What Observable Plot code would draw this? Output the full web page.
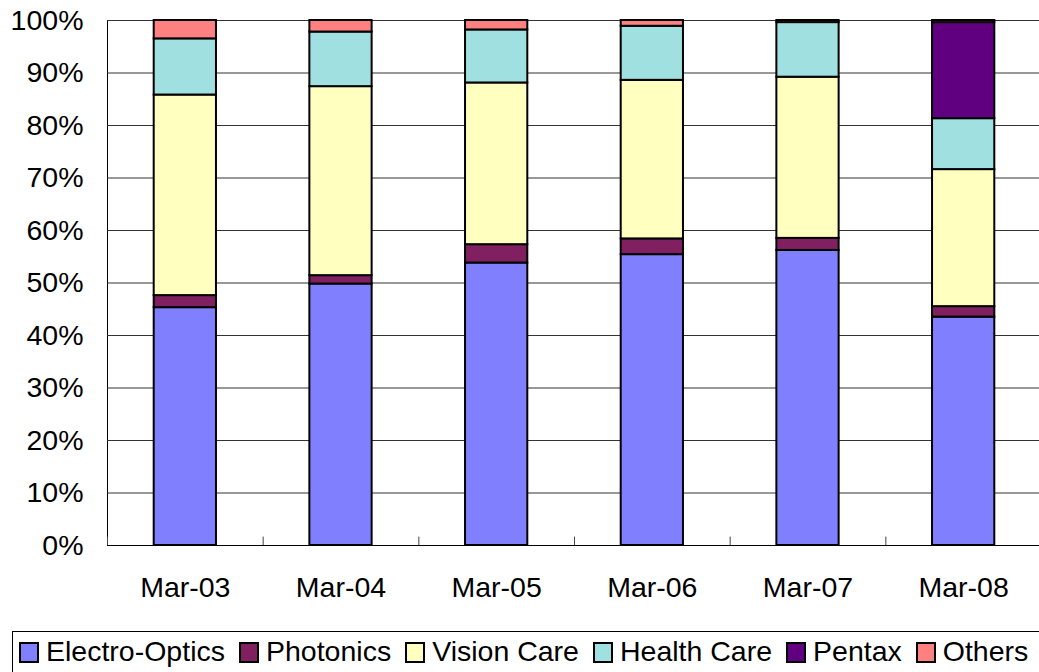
<!DOCTYPE html>
<html>
<head>
<meta charset="utf-8">
<script src="https://cdn.jsdelivr.net/npm/d3@7"></script>
<script src="https://cdn.jsdelivr.net/npm/@observablehq/plot@0.6"></script>
<style>
  html, body { margin: 0; padding: 0; background: #fff; }
  body { position: relative; width: 1039px; height: 672px; overflow: hidden; font-family: "Liberation Sans", Arial, sans-serif; }
  #chart { position: absolute; left: 0; top: 0; }
  #legend { position: absolute; left: 12px; top: 631px; width: 1100px; height: 60px; border: 1px solid #000; box-sizing: border-box; font-size: 28.5px; white-space: nowrap; }
  #legend .row { position: absolute; left: 6px; top: 3px; display: flex; gap: 14px; line-height: 32px; }
  .item { display: flex; align-items: center; }
  .sw { width: 16px; height: 17px; border: 2px solid #000; margin-right: 7px; position: relative; top: 1px; }
</style>
</head>
<body>
<div id="chart"></div>
<div id="legend"><div class="row" id="row"></div></div>
<script>
const periods = ["Mar-03", "Mar-04", "Mar-05", "Mar-06", "Mar-07", "Mar-08"];
const seriesNames = ["Electro-Optics", "Photonics", "Vision Care", "Health Care", "Pentax", "Others"];
const seriesColors = ["#8080FF", "#802060", "#FFFFC0", "#A0E0E0", "#600080", "#FF8080"];
const electroOptics = [45.3, 49.8, 53.8, 55.4, 56.2, 43.5];
const photonics     = [2.3, 1.6, 3.5, 3.0, 2.3, 2.0];
const visionCare    = [38.2, 36.0, 30.8, 30.2, 30.7, 26.1];
const healthCare    = [10.7, 10.4, 10.1, 10.3, 10.4, 9.7];
const pentax        = [0, 0, 0, 0, 0, 18.3];
const others        = [3.5, 2.2, 1.8, 1.1, 0.4, 0.4];
const yTicks = [0, 0.1, 0.2, 0.3, 0.4, 0.5, 0.6, 0.7, 0.8, 0.9, 1.0];

const seriesValues = [electroOptics, photonics, visionCare, healthCare, pentax, others];
const data = [];
periods.forEach((p, i) => {
  seriesNames.forEach((s, j) => {
    data.push({period: p, series: s, value: seriesValues[j][i] / 100});
  });
});

const W = 1039, ML = 107, MR = -2;
const step = (W - ML - MR) / (periods.length - 0.6 + 0.6);

const chart = Plot.plot({
  width: W,
  height: 620,
  marginLeft: ML,
  marginRight: MR,
  marginTop: 20,
  marginBottom: 75,
  style: {fontFamily: '"Liberation Sans", Arial, sans-serif', fontSize: "28.5px", color: "#000", background: "transparent", overflow: "visible"},
  x: {domain: periods, paddingInner: 0.6, paddingOuter: 0.3, align: 0.5, round: false, label: null, tickSize: 0, tickPadding: 31},
  y: {domain: [0, 1], ticks: yTicks, tickFormat: d3.format(".0%"), label: null, tickSize: 0, tickPadding: 24, line: true},
  color: {domain: seriesNames, range: seriesColors},
  marks: [
    Plot.ruleY(yTicks, {stroke: "#333", strokeWidth: 1}),
    Plot.ruleX(periods, {x: d => d, y1: 0, y2: 0.016, dx: -step / 2, stroke: "#444"}),
    Plot.barY(data, {x: "period", y: "value", fill: "series", stroke: "#000", strokeWidth: 2}),
    Plot.ruleY([0], {stroke: "#000", strokeWidth: 1})
  ]
});
document.getElementById("chart").appendChild(chart);

const row = document.getElementById("row");
seriesNames.forEach((s, j) => {
  const it = document.createElement("div");
  it.className = "item";
  const sw = document.createElement("div");
  sw.className = "sw";
  sw.style.background = seriesColors[j];
  const t = document.createElement("span");
  t.textContent = s;
  it.appendChild(sw);
  it.appendChild(t);
  row.appendChild(it);
});
</script>
</body>
</html>
